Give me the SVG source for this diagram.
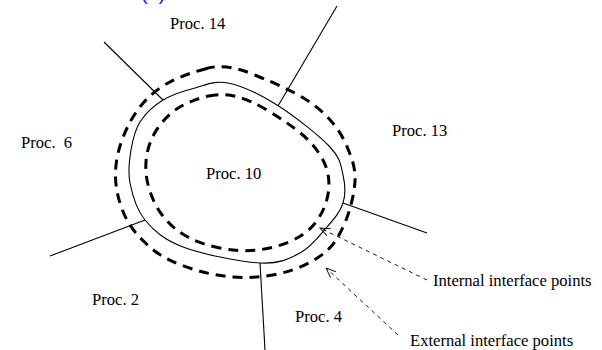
<svg xmlns="http://www.w3.org/2000/svg" width="602" height="350" viewBox="0 0 602 350">
<style>
text{font-family:"Liberation Serif","Times New Roman",serif;font-size:16.6px;fill:#000}
.solid{fill:none;stroke:#000;stroke-width:1.1}
.dash{fill:none;stroke:#000;stroke-width:3;stroke-dasharray:10 7}
.arr{fill:none;stroke:#000;stroke-width:0.9;stroke-dasharray:4 4}
</style>
<defs>
<marker id="open" markerWidth="12" markerHeight="10" refX="10" refY="4" orient="auto" markerUnits="userSpaceOnUse">
<path d="M0,0 L10,4 L0,8" fill="none" stroke="#000" stroke-width="0.9" stroke-dasharray="none"/>
</marker>
</defs>
<text x="141" y="0" style="fill:#1a1aff;font-size:20px;font-family:'Liberation Sans',sans-serif">(a)</text>
<g id="boundaries">
<path id="proc10-boundary" class="solid" d="M228,83 C241.7,85.8 260,94.3 277,105 C294,115.7 319,135.3 330,147 C341,158.7 340.8,165.7 343,175 C345.2,184.3 345.7,194.3 343,203 C340.3,211.7 334.2,218.7 327,227 C319.8,235.3 311.2,247 300,253 C288.8,259 279.5,264 260,263 C240.5,262 202.2,254.2 183,247 C163.8,239.8 153.8,230.7 145,220 C136.2,209.3 132.3,194.7 130,183 C127.7,171.3 129.3,160.2 131,150 C132.7,139.8 134.7,130.3 140,122 C145.3,113.7 153.8,105.7 163,100 C172.2,94.3 184.2,90.8 195,88 C205.8,85.2 214.3,80.2 228,83 Z"/>
<path id="external-points" class="dash" d="M205,69 Q225,62 256,75.5 Q287,88 303.5,98 Q320,108 331.5,121.5 Q343,135 349,151.5 Q356,168 355,181.5 Q354,195 349.5,210 Q345,225 337.5,237.5 Q330,251 312.5,261 Q295,271 272.5,275 Q250,279 227.5,276.5 Q205,274 182.5,265.5 Q159,257 145,242.5 Q129,228 122,209 Q115,190 115.5,172.5 Q116,155 123,137.5 Q130,119 141.5,105 Q153,91 169,82.5 Q185,74 205,69 Z"/>
<path id="internal-points" class="dash" d="M208.5,96 Q222,93 236,96.5 Q250,100 266,109.5 Q282,119 296,129.5 Q310,140 318.5,152.5 Q327,165 328.5,177.5 Q330,190 326,202.5 Q322,215 313.5,225 Q305,235 290,241.5 Q275,248 257.5,250 Q240,252 220,248 Q200,244 186,236 Q172,228 162.5,215.5 Q153,203 148.5,186.5 Q144,170 147,154 Q150,138 160,125 Q170,112 182.5,105.5 Q195,99 208.5,96 Z"/>
</g>
<g id="connectors">
<line class="solid" x1="104" y1="42" x2="163" y2="100"/>
<line class="solid" x1="337" y1="6" x2="278" y2="106"/>
<line class="solid" x1="343" y1="203" x2="427" y2="233"/>
<line class="solid" x1="50" y1="256" x2="145" y2="220"/>
<line class="solid" x1="260" y1="263" x2="265" y2="350"/>
<line class="arr" x1="427" y1="280" x2="320" y2="228" marker-end="url(#open)"/>
<line class="arr" x1="398" y1="335" x2="326" y2="268" marker-end="url(#open)"/>
</g>
<g id="proc14"><text x="170" y="29">Proc. 14</text></g>
<g id="proc13"><text x="392" y="136">Proc. 13</text></g>
<g id="proc6"><text x="21" y="148" xml:space="preserve">Proc.  6</text></g>
<g id="proc10"><text x="206" y="179">Proc. 10</text></g>
<g id="proc2"><text x="92" y="305">Proc. 2</text></g>
<g id="proc4"><text x="295" y="322">Proc. 4</text></g>
<g id="internal-label"><text x="433" y="286">Internal interface points</text></g>
<g id="external-label"><text x="410" y="346">External interface points</text></g>
</svg>
